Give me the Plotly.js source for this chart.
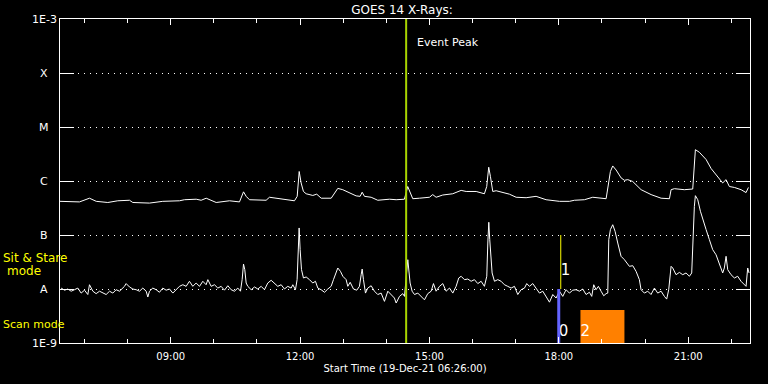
<!DOCTYPE html>
<html>
<head>
<meta charset="utf-8">
<script src="https://cdn.plot.ly/plotly-3.0.1.min.js"></script>
<style>html,body{margin:0;padding:0;background:#000;}#chart{width:768px;height:384px;}</style>
</head>
<body>
<div id="chart"></div>
<script>
// Minutes after start time (19-Dec-21 06:26:00)
const upperMin = [0,27.1,41.0,50.4,66.5,80.4,96.7,101.3,124.5,143.0,166.2,173.2,189.5,196.4,203.4,217.3,235.8,249.7,255.3,259.0,263.6,286.8,291.4,300.8,314.7,326.2,330.0,332.8,335.5,338.7,342.5,351.7,357.2,363.4,377.3,386.5,393.4,402.7,412.0,417.6,420.4,423.6,432.9,442.1,458.4,467.7,479.2,483.8,488.6,490.8,500.1,514.0,518.6,523.3,532.5,546.4,558.1,565.1,579.0,590.5,593.7,596.5,598.9,602.1,606.8,616.0,625.3,634.6,648.5,662.4,676.3,694.9,708.8,715.7,729.6,741.2,759.8,765.8,769.0,773.7,780.7,785.3,789.9,796.8,808.5,822.4,836.3,847.9,850.2,854.8,868.7,880.3,884.0,889.6,898.9,905.9,915.1,922.0,926.7,931.3,938.3,947.6,954.5,957.8];
const upperFlux = [4.2e-7,4.1e-7,4.8e-7,4.2e-7,4.0e-7,4.3e-7,4.4e-7,4.0e-7,3.9e-7,4.2e-7,4.3e-7,4.5e-7,4.6e-7,4.4e-7,4.8e-7,4.0e-7,4.3e-7,4.1e-7,6.3e-7,5.2e-7,4.5e-7,4.4e-7,5.0e-7,4.8e-7,4.5e-7,4.3e-7,5.2e-7,1.5e-6,9.2e-7,6.4e-7,5.8e-7,5.4e-7,5.7e-7,4.8e-7,4.8e-7,7.3e-7,6.9e-7,6.0e-7,5.3e-7,5.2e-7,6.2e-7,5.2e-7,5.0e-7,4.4e-7,4.6e-7,4.5e-7,4.6e-7,7.9e-7,5.2e-7,4.7e-7,4.8e-7,5.0e-7,5.6e-7,5.0e-7,5.5e-7,5.8e-7,6.7e-7,6.4e-7,6.4e-7,5.8e-7,7.9e-7,1.8e-6,1.2e-6,6.4e-7,6.6e-7,6.1e-7,5.7e-7,5.0e-7,4.9e-7,5.2e-7,4.5e-7,4.2e-7,4.2e-7,4.4e-7,4.5e-7,5.0e-7,4.7e-7,1.5e-6,1.9e-6,1.6e-6,1.14e-6,1.03e-6,1.06e-6,9.8e-7,6.9e-7,5.6e-7,4.8e-7,4.7e-7,6.9e-7,7.2e-7,6.9e-7,7.1e-7,3.8e-6,3.4e-6,2.5e-6,1.7e-6,1.2e-6,9.2e-7,1.06e-6,7.9e-7,7.6e-7,6.9e-7,6.1e-7,7.6e-7];

const lowerMin = [1.6,6.3,10.9,15.5,20.2,24.8,29.4,34.1,38.7,41.0,45.7,50.3,55.0,59.6,64.2,68.9,73.5,78.1,82.8,89.7,92.0,96.7,101.3,105.9,110.6,115.2,119.9,122.2,124.5,129.1,133.8,138.4,143.0,147.7,152.3,157.0,161.6,166.2,170.9,175.5,180.1,184.8,189.4,194.1,198.7,203.3,205.7,210.3,214.9,219.6,224.2,228.8,233.5,
238.1,242.8,247.4,251.1,253.4,255.3,257.1,259.0,261.3,266.0,270.6,275.2,279.9,284.5,289.1,293.8,298.4,303.0,307.7,312.3,316.9,321.6,323.9,327.6,329.9,331.3,332.7,334.1,336.0,338.7,342.5,347.1,351.7,355.4,358.7,363.3,368.0,372.6,377.2,380.5,383.3,386.5,390.2,393.5,398.1,400.4,403.7,408.3,412.9,416.6,419.0,420.4,422.2,425.0,428.2,432.9,437.5,442.1,446.8,451.4,456.1,460.7,465.3,467.7,472.3,476.9,
479.3,483.9,485.3,487.1,489.9,493.2,497.8,502.4,507.1,511.7,516.4,519.6,523.3,528.0,532.6,537.2,541.9,546.5,551.1,554.8,558.1,562.7,567.4,572.0,576.6,581.3,585.9,590.5,593.8,595.2,596.6,597.9,599.8,601.2,604.5,609.1,613.7,618.3,623.0,627.6,632.3,636.9,641.5,646.2,649.4,653.1,657.8,662.4,667.1,671.7,676.3,681.0,685.6,690.2,694.9,699.5,704.1,708.8,713.4,
718.0,722.7,727.3,731.9,736.6,739.8,742.6,745.8,749.1,752.8,756.5,759.8,762.1,763.5,765.8,769.0,772.3,776.0,780.6,785.3,789.0,792.2,796.9,801.5,806.1,808.4,813.1,817.7,822.3,827.0,831.6,836.3,840.9,844.1,846.9,850.2,852.5,857.1,861.8,866.4,871.0,875.7,878.9,880.3,882.6,884.0,887.3,891.0,894.2,898.9,903.5,908.1,912.8,917.4,922.0,924.3,926.7,929.0,933.6,938.3,942.9,947.5,952.2,954.5,956.8,958.7];
const lowerFlux = [1.04e-8,0.95e-8,1.0e-8,0.91e-8,0.97e-8,1.04e-8,0.84e-8,0.95e-8,0.79e-8,1.2e-8,0.91e-8,0.82e-8,0.91e-8,0.84e-8,0.79e-8,0.91e-8,0.84e-8,0.97e-8,0.91e-8,1.12e-8,1.26e-8,1.09e-8,1.0e-8,0.97e-8,0.91e-8,1.04e-8,0.91e-8,0.71e-8,0.91e-8,1.04e-8,0.97e-8,0.87e-8,1.04e-8,0.95e-8,1.0e-8,0.84e-8,0.97e-8,1.12e-8,1.2e-8,1.12e-8,1.39e-8,1.12e-8,1.29e-8,1.12e-8,1.39e-8,1.2e-8,1.49e-8,1.12e-8,1.2e-8,1.04e-8,1.12e-8,0.95e-8,1.15e-8,
0.97e-8,0.91e-8,1.04e-8,0.91e-8,1.49e-8,2.9e-8,2.28e-8,1.29e-8,1.12e-8,0.97e-8,1.09e-8,1.0e-8,1.12e-8,0.97e-8,1.29e-8,1.45e-8,1.26e-8,1.12e-8,1.2e-8,1.0e-8,1.12e-8,1.04e-8,1.2e-8,0.97e-8,1.49e-8,5.35e-8,1.35e-7,5.35e-8,2.28e-8,1.6e-8,1.67e-8,1.49e-8,1.29e-8,1.39e-8,1.04e-8,0.97e-8,0.87e-8,1.0e-8,1.12e-8,1.49e-8,1.84e-8,2.45e-8,2.12e-8,1.72e-8,1.49e-8,1.12e-8,1.33e-8,1.0e-8,0.95e-8,1.12e-8,1.84e-8,2.34e-8,1.49e-8,0.84e-8,1.04e-8,1.15e-8,0.91e-8,0.79e-8,0.84e-8,0.59e-8,0.91e-8,0.79e-8,0.68e-8,0.55e-8,0.73e-8,0.82e-8,
0.73e-8,3.49e-8,1.98e-8,1.29e-8,0.91e-8,0.79e-8,0.84e-8,0.73e-8,0.63e-8,0.82e-8,0.91e-8,1.26e-8,0.91e-8,1.12e-8,1.26e-8,0.91e-8,1.04e-8,0.84e-8,1.12e-8,1.6e-8,1.72e-8,1.49e-8,1.53e-8,1.39e-8,1.49e-8,1.26e-8,1.39e-8,1.12e-8,1.72e-8,7.1e-8,1.72e-7,8.2e-8,4.03e-8,1.98e-8,1.39e-8,1.49e-8,1.39e-8,1.2e-8,1.12e-8,1.04e-8,1.12e-8,0.79e-8,0.97e-8,1.04e-8,1.26e-8,1.12e-8,1.26e-8,1.04e-8,0.84e-8,0.91e-8,0.73e-8,0.57e-8,0.79e-8,0.68e-8,0.91e-8,0.73e-8,0.97e-8,0.84e-8,0.95e-8,
0.97e-8,0.91e-8,1.0e-8,0.79e-8,0.87e-8,0.73e-8,1.2e-8,0.97e-8,1.12e-8,0.91e-8,0.75e-8,0.82e-8,0.84e-8,8.2e-8,1.26e-7,1.55e-7,1.17e-7,7.1e-8,4.03e-8,3.49e-8,3.03e-8,2.63e-8,2.7e-8,2.12e-8,1.49e-8,0.97e-8,0.84e-8,0.91e-8,0.79e-8,1.04e-8,0.84e-8,0.91e-8,0.73e-8,0.65e-8,0.97e-8,2.63e-8,2.45e-8,1.84e-8,2.03e-8,1.84e-8,1.98e-8,1.72e-8,1.98e-8,8.2e-8,3.4e-7,5.35e-7,4.5e-7,2.75e-7,1.92e-7,1.26e-7,8.2e-8,5.35e-8,4.3e-8,2.8e-8,1.98e-8,2.45e-8,4.03e-8,2.28e-8,1.84e-8,1.6e-8,1.72e-8,1.39e-8,1.2e-8,1.12e-8,2.45e-8,1.98e-8];

// Event markers (minutes after start)
const eventPeakMin = 481.6;
const blueMarkMin = 693.9;   const blueMarkFlux = [1e-9, 1e-8];
const yellowMarkMin = 696.7; const yellowMarkFlux = [1e-8, 1e-7];
const orangeSpanMin = [724.1, 785.3]; const orangeSpanFlux = [1e-9, 4.1e-9];
const markLabels = ['0', '1', '2'];
const markLabelFlux = [1.55e-9, 2.12e-8, 1.55e-9];

// Axis labels
const yTickVals = [1e-3, 1e-4, 1e-5, 1e-6, 1e-7, 1e-8, 1e-9];
const yTickText = ['1E-3', 'X', 'M', 'C', 'B', 'A', '1E-9'];
const totalMin = 960;

const startMs = Date.UTC(2021, 11, 19, 6, 26, 0);
function toDate(m) {
  return new Date(startMs + m * 60000).toISOString().slice(0, 23).replace('T', ' ');
}

const FONT = 'DejaVu Sans, sans-serif';
const traces = [
  {x: upperMin.map(toDate), y: upperFlux, mode: 'lines', line: {color: '#ffffff', width: 1}},
  {x: lowerMin.map(toDate), y: lowerFlux, mode: 'lines', line: {color: '#ffffff', width: 1}},
  {x: [toDate(eventPeakMin), toDate(eventPeakMin)], y: [1e-9, 1e-3], mode: 'lines', line: {color: '#a8d400', width: 2}},
  {x: [orangeSpanMin[0], orangeSpanMin[1], orangeSpanMin[1], orangeSpanMin[0], orangeSpanMin[0]].map(toDate),
   y: [orangeSpanFlux[0], orangeSpanFlux[0], orangeSpanFlux[1], orangeSpanFlux[1], orangeSpanFlux[0]],
   mode: 'lines', fill: 'toself', fillcolor: '#ff8000', line: {width: 0, color: '#ff8000'}},
  {x: [blueMarkMin, yellowMarkMin, orangeSpanMin[0]].map(toDate), y: markLabelFlux, text: markLabels,
   mode: 'text', textposition: 'middle right', textfont: {family: FONT, size: 15, color: '#ffffff'}, cliponaxis: false},
  {x: [toDate(blueMarkMin), toDate(blueMarkMin)], y: blueMarkFlux, mode: 'lines', line: {color: '#6464ff', width: 3}},
  {x: [toDate(yellowMarkMin), toDate(yellowMarkMin)], y: yellowMarkFlux, mode: 'lines', line: {color: '#ffff00', width: 1}}
];

const annotations = yTickVals.map((v, i) => ({
  xref: 'paper', yref: 'y', x: -16 / 690, y: Math.log10(v), text: yTickText[i],
  showarrow: false, xanchor: 'center', yanchor: 'middle',
  font: {family: FONT, size: 11, color: '#ffffff'}
}));
annotations.push(
  {xref: 'x', yref: 'paper', x: toDate(eventPeakMin), y: 0.926, xshift: 9, text: 'Event Peak', showarrow: false,
   xanchor: 'left', yanchor: 'middle', font: {family: FONT, size: 11, color: '#ffffff'}},
  {xref: 'paper', yref: 'paper', x: -59 / 690, y: (343 - 258) / 324, text: 'Sit & Stare', showarrow: false,
   xanchor: 'left', yanchor: 'middle', font: {family: FONT, size: 12, color: '#ffff00'}},
  {xref: 'paper', yref: 'paper', x: -36 / 690, y: (343 - 271) / 324, text: 'mode', showarrow: false,
   xanchor: 'center', yanchor: 'middle', font: {family: FONT, size: 12, color: '#ffff00'}},
  {xref: 'paper', yref: 'paper', x: -59 / 690, y: (343 - 324) / 324, text: 'Scan mode', showarrow: false,
   xanchor: 'left', yanchor: 'middle', font: {family: FONT, size: 11, color: '#ffff00'}}
);

const layout = {
  width: 768, height: 384,
  margin: {l: 60, r: 18, t: 19, b: 41, pad: 0},
  paper_bgcolor: '#000000', plot_bgcolor: '#000000',
  showlegend: false,
  title: {text: 'GOES 14 X-Rays:', x: 402 / 768, xanchor: 'center', y: 1 - 10 / 384, yanchor: 'middle',
          font: {family: FONT, size: 12, color: '#ffffff'}},
  xaxis: {
    type: 'date', range: [toDate(0), toDate(totalMin)],
    tick0: '2021-12-19 00:00:00', dtick: 3 * 3600000, tickformat: '%H:%M',
    ticks: 'inside', ticklen: 6, tickwidth: 1, tickcolor: '#ffffff', ticklabelstandoff: 4,
    minor: {tick0: '2021-12-19 00:00:00', dtick: 3600000, ticks: 'inside', ticklen: 4, tickwidth: 1, tickcolor: '#ffffff', showgrid: false},
    showline: true, linecolor: '#ffffff', linewidth: 1, mirror: 'ticks',
    showgrid: false, zeroline: false,
    tickfont: {family: FONT, size: 10, color: '#ffffff'},
    title: {text: 'Start Time (19-Dec-21 06:26:00)', font: {family: FONT, size: 10, color: '#ffffff'}, standoff: 3}
  },
  yaxis: {
    type: 'log', range: [-9, -3], tickvals: yTickVals, ticktext: yTickText, showticklabels: false,
    ticks: 'inside', ticklen: 14, tickwidth: 1, tickcolor: '#ffffff',
    showline: true, linecolor: '#ffffff', linewidth: 1, mirror: 'ticks',
    showgrid: true, gridcolor: '#ffffff', gridwidth: 1, griddash: '1px,5px', zeroline: false
  },
  annotations: annotations
};

Plotly.newPlot('chart', traces, layout, {staticPlot: true, displayModeBar: false});
</script>
</body>
</html>
